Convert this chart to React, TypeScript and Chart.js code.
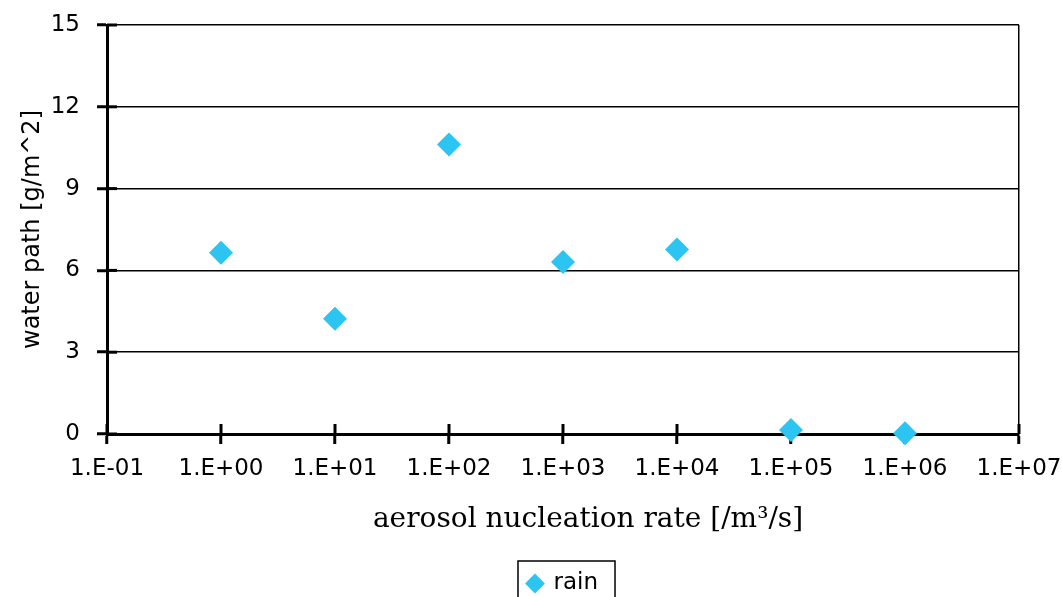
import React, { useEffect, useRef } from 'react';
import { Chart, registerables } from 'chart.js';

Chart.register(...registerables);

// ---- data ----
const xValues = [1, 10, 100, 1000, 10000, 100000, 1000000];
const rainValues = [6.65, 4.23, 10.62, 6.31, 6.77, 0.15, 0.03];
const xTickValues = [0.1, 1, 10, 100, 1000, 10000, 100000, 1000000, 10000000];
const yTickValues = [0, 3, 6, 9, 12, 15];
const seriesName = 'rain';
const xTitle = 'aerosol nucleation rate [/m\u00B3/s]';
const yTitle = 'water path [g/m^2]';

const BLUE = '#2CC4F0';

function fmtSci(v: number): string {
  const e = Math.round(Math.log10(v));
  const sign = e < 0 ? '-' : '+';
  return `1.E${sign}${String(Math.abs(e)).padStart(2, '0')}`;
}

const decorPlugin = {
  id: 'decor',
  beforeDatasetsDraw(chart: any) {
    const { ctx, chartArea, scales } = chart;
    ctx.save();
    ctx.strokeStyle = '#000';
    ctx.lineWidth = 3;
    // inner halves of the crossing tick marks
    for (const v of xTickValues) {
      const px = scales.x.getPixelForValue(v);
      ctx.beginPath();
      ctx.moveTo(px, chartArea.bottom);
      ctx.lineTo(px, chartArea.bottom - 10);
      ctx.stroke();
    }
    for (const v of yTickValues) {
      const py = scales.y.getPixelForValue(v);
      ctx.beginPath();
      ctx.moveTo(chartArea.left, py);
      ctx.lineTo(chartArea.left + 10, py);
      ctx.stroke();
    }
    ctx.restore();
  },
  afterDraw(chart: any) {
    const { ctx, chartArea } = chart;
    ctx.save();
    ctx.font = '28px "DejaVu Serif"';
    ctx.fillStyle = '#000';
    ctx.textAlign = 'center';
    ctx.textBaseline = 'alphabetic';
    ctx.fillText(xTitle, (chartArea.left + chartArea.right) / 2 + 25, chartArea.bottom + 93);
    const hb = chart.legend && chart.legend.legendHitBoxes && chart.legend.legendHitBoxes[0];
    if (hb) {
      ctx.strokeStyle = '#000';
      ctx.lineWidth = 1.5;
      ctx.strokeRect(hb.left - 10, hb.top - 11, hb.width + 27, 100);
    }
    ctx.restore();
  },
};

export default function App() {
  const canvasRef = useRef<HTMLCanvasElement | null>(null);

  useEffect(() => {
    document.body.style.margin = '0';
    document.body.style.overflow = 'hidden';
    const canvas = canvasRef.current;
    if (!canvas) return;
    const chart = new Chart(canvas, {
      type: 'scatter',
      data: {
        datasets: [
          {
            label: seriesName,
            data: xValues.map((x, i) => ({ x, y: rainValues[i] })),
            backgroundColor: BLUE,
            borderColor: BLUE,
            borderWidth: 0,
            pointStyle: 'rectRot',
            pointRadius: 12,
            pointHoverRadius: 12,
            pointBorderWidth: 0,
            clip: false as any,
          },
        ],
      },
      options: {
        animation: false,
        responsive: false,
        events: [],
        layout: { padding: { left: 0, right: 43, top: 25, bottom: 0 } },
        scales: {
          x: {
            type: 'logarithmic',
            min: 0.1,
            max: 10000000,
            afterBuildTicks: (scale: any) => {
              scale.ticks = xTickValues.map((v) => ({ value: v }));
            },
            afterFit: (scale: any) => {
              scale.height = 128;
              scale.paddingLeft = 0;
              scale.paddingRight = 0;
            },
            ticks: {
              autoSkip: false,
              maxRotation: 0,
              minRotation: 0,
              color: '#000',
              padding: 11,
              font: { family: '"DejaVu Sans"', size: 23 },
              callback: (v: any) => fmtSci(Number(v)),
            },
            grid: {
              drawOnChartArea: true,
              color: (c: any) => (c.tick && c.tick.value === 10000000 ? '#000' : 'rgba(0,0,0,0)'),
              lineWidth: 1.5,
              tickColor: '#000',
              tickWidth: 3,
              tickLength: 10,
            },
            border: { display: true, color: '#000', width: 3 },
            title: { display: false },
          },
          y: {
            type: 'linear',
            min: 0,
            max: 15,
            afterBuildTicks: (scale: any) => {
              scale.ticks = yTickValues.map((v) => ({ value: v }));
            },
            afterFit: (scale: any) => {
              scale.width = 107;
              scale.paddingTop = 0;
              scale.paddingBottom = 0;
            },
            ticks: {
              color: '#000',
              padding: 17,
              font: { family: '"DejaVu Sans"', size: 23 },
            },
            grid: {
              color: '#000',
              lineWidth: 1.5,
              tickColor: '#000',
              tickWidth: 3,
              tickLength: 10,
            },
            border: { display: true, color: '#000', width: 3 },
            title: {
              display: true,
              text: yTitle,
              color: '#000',
              font: { family: '"DejaVu Sans"', size: 24 },
              padding: { top: 18, bottom: 0 },
            },
          },
        },
        plugins: {
          legend: {
            display: true,
            position: 'bottom',
            fullSize: false,
            labels: {
              usePointStyle: true,
              boxWidth: 14,
              boxHeight: 14,
              padding: 10,
              color: '#000',
              font: { family: '"DejaVu Sans"', size: 23 },
            },
          },
          tooltip: { enabled: false },
          title: { display: false },
        },
      },
      plugins: [decorPlugin],
    } as any);
    return () => chart.destroy();
  }, []);

  return (
    <div style={{ position: 'fixed', left: 0, top: 0, width: 1062, height: 597, overflow: 'hidden', background: '#fff' }}>
      <canvas ref={canvasRef} width={1062} height={605} style={{ display: 'block' }} />
    </div>
  );
}
